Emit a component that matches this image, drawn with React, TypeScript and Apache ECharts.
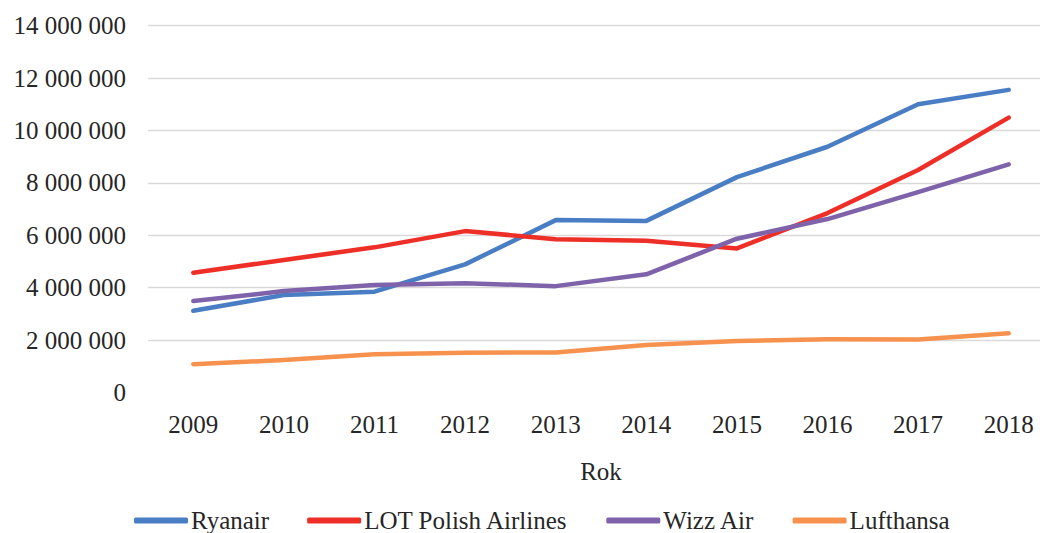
import React, { useEffect, useRef } from "react";
import * as echarts from "echarts";

const years = ["2009", "2010", "2011", "2012", "2013", "2014", "2015", "2016", "2017", "2018"];
const ryanair = [3120000, 3720000, 3850000, 4890000, 6580000, 6550000, 8220000, 9380000, 11000000, 11550000];
const lot = [4570000, 5060000, 5540000, 6160000, 5850000, 5790000, 5500000, 6850000, 8490000, 10490000];
const wizz = [3490000, 3870000, 4100000, 4170000, 4060000, 4510000, 5870000, 6620000, 7650000, 8710000];
const lufthansa = [1080000, 1240000, 1460000, 1520000, 1530000, 1810000, 1970000, 2030000, 2020000, 2260000];

const seriesNames = ["Ryanair", "LOT Polish Airlines", "Wizz Air", "Lufthansa"];
const seriesData = [ryanair, lot, wizz, lufthansa];
const colors = ["#4A7EC4", "#EE2F27", "#7E63AA", "#F7924E"];

const FONT = "'Liberation Serif', 'Times New Roman', serif";

const fmt = (v: number) => String(v).replace(/\B(?=(\d{3})+(?!\d))/g, " ");

export default function App() {
  const ref = useRef<HTMLDivElement>(null);
  useEffect(() => {
    if (!ref.current) return;
    const chart = echarts.init(ref.current, undefined, { renderer: "svg" });
    chart.setOption({
      animation: false,
      backgroundColor: "#ffffff",
      textStyle: { fontFamily: FONT },
      grid: { left: 148, width: 906, top: 25.7, height: 366.8, containLabel: false, outerBoundsMode: "none" },
      legend: {
        left: 129,
        top: 503,
        icon: "roundRect",
        itemWidth: 54,
        itemHeight: 6,
        itemGap: 38,
        textStyle: { fontFamily: FONT, fontSize: 25, color: "#262626", padding: [0, 0, 0, -2] },
        data: seriesNames,
      },
      xAxis: {
        type: "category",
        data: years,
        boundaryGap: true,
        name: "Rok",
        nameLocation: "middle",
        nameGap: 66,
        nameTextStyle: { fontFamily: FONT, fontSize: 25, color: "#262626" },
        axisLine: { show: false },
        axisTick: { show: false },
        axisLabel: { fontFamily: FONT, fontSize: 25, color: "#262626", margin: 19 },
      },
      yAxis: {
        type: "value",
        min: 0,
        max: 14000000,
        interval: 2000000,
        axisLine: { show: false },
        axisTick: { show: false },
        axisLabel: { fontFamily: FONT, fontSize: 25, color: "#262626", margin: 22, formatter: (v: number) => fmt(v) },
        splitLine: { show: true, showMinLine: false, lineStyle: { color: "#D9D9D9", width: 1.3 } },
      },
      series: seriesNames.map((name, i) => ({
        name,
        type: "line",
        data: seriesData[i],
        symbol: "none",
        smooth: false,
        color: colors[i],
        lineStyle: { width: 4.5, color: colors[i], cap: "round", join: "round" },
      })),
    });
    return () => chart.dispose();
  }, []);
  return <div ref={ref} style={{ position: "absolute", left: 0, top: 0, width: 1040, height: 533 }} />;
}
